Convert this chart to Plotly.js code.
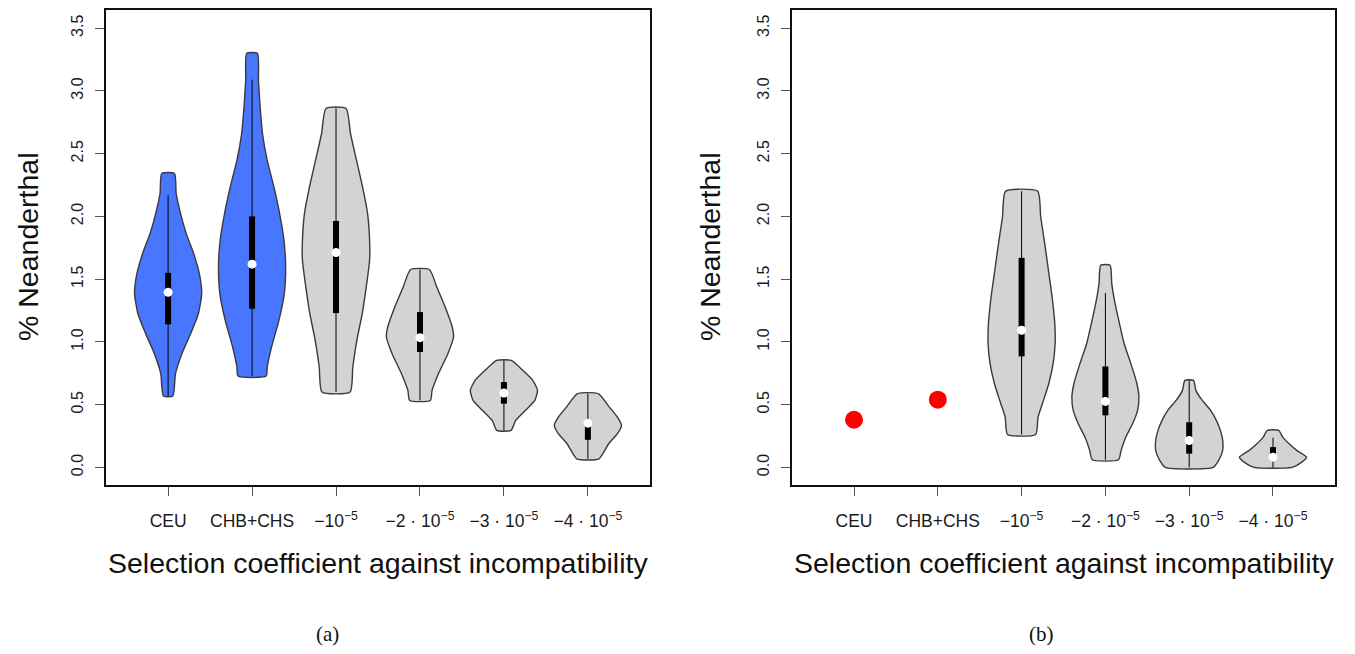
<!DOCTYPE html>
<html>
<head>
<meta charset="utf-8">
<script src="https://cdn.plot.ly/plotly-3.0.1.min.js"></script>
<style>
  html, body { margin: 0; padding: 0; background: #fff; }
  #chart { width: 1355px; height: 654px; }
</style>
</head>
<body>
<div id="chart"></div>
<script>
// ---------- categories / tick labels ----------
const categories = ["CEU", "CHB+CHS", "−10<sup>−5</sup>", "−2 · 10<sup>−5</sup>", "−3 · 10<sup>−5</sup>", "−4 · 10<sup>−5</sup>"];
const tickPositions = [1, 2, 3, 4, 5, 6];
const yTickVals = [0, 0.5, 1, 1.5, 2, 2.5, 3, 3.5];
const yTickText = ["0.0", "0.5", "1.0", "1.5", "2.0", "2.5", "3.0", "3.5"];

// ---------- panel (a): violin outlines (value levels, relative density) ----------
const aCeuY = [2.342, 2.183, 2.023, 1.863, 1.704, 1.544, 1.385, 1.225, 1.066, 0.906, 0.747, 0.569];
const aCeuD = [0.19, 0.24, 0.37, 0.54, 0.76, 0.93, 1.00, 0.90, 0.67, 0.41, 0.22, 0.14];
const aChbY = [3.299, 3.086, 2.873, 2.661, 2.448, 2.235, 2.023, 1.810, 1.597, 1.385, 1.172, 0.959, 0.800, 0.728];
const aChbD = [0.16, 0.19, 0.24, 0.31, 0.45, 0.65, 0.82, 0.95, 1.00, 0.96, 0.80, 0.58, 0.45, 0.42];
const aS1Y = [2.860, 2.661, 2.448, 2.235, 2.023, 1.810, 1.651, 1.438, 1.225, 1.013, 0.800, 0.601];
const aS1D = [0.30, 0.43, 0.61, 0.79, 0.94, 1.00, 1.00, 0.90, 0.78, 0.62, 0.50, 0.42];
const aS2Y = [1.577, 1.438, 1.278, 1.119, 1.039, 0.906, 0.747, 0.614, 0.534];
const aS2D = [0.28, 0.50, 0.75, 0.96, 1.00, 0.83, 0.55, 0.36, 0.31];
const aS3Y = [0.853, 0.774, 0.694, 0.614, 0.534, 0.455, 0.375, 0.295];
const aS3D = [0.22, 0.56, 0.86, 1.00, 0.92, 0.64, 0.35, 0.21];
const aS4Y = [0.588, 0.481, 0.401, 0.335, 0.269, 0.189, 0.069];
const aS4D = [0.31, 0.64, 0.88, 1.00, 0.88, 0.62, 0.33];

// panel (a): box statistics
const aWhiskLo = [0.569, 0.728, 0.601, 0.534, 0.295, 0.069];
const aWhiskHi = [2.17, 3.09, 2.86, 1.577, 0.853, 0.588];
const aQ1 = [1.14, 1.265, 1.23, 0.92, 0.508, 0.22];
const aQ3 = [1.55, 2.00, 1.964, 1.238, 0.68, 0.37];
const aMedian = [1.395, 1.62, 1.712, 1.034, 0.593, 0.353];

// ---------- panel (b) ----------
const bPointVals = [0.38, 0.54];           // CEU, CHB+CHS observed values
const bS1Y = [2.201, 1.996, 1.784, 1.571, 1.358, 1.146, 0.986, 0.827, 0.667, 0.508, 0.401, 0.263];
const bS1D = [0.48, 0.57, 0.69, 0.80, 0.91, 0.99, 1.00, 0.94, 0.81, 0.62, 0.49, 0.42];
const bS2Y = [1.611, 1.465, 1.305, 1.146, 0.986, 0.827, 0.667, 0.561, 0.455, 0.348, 0.242, 0.136, 0.061];
const bS2D = [0.14, 0.19, 0.29, 0.42, 0.56, 0.76, 0.94, 1.00, 0.96, 0.81, 0.61, 0.47, 0.39];
const bS3Y = [0.694, 0.614, 0.534, 0.455, 0.375, 0.295, 0.215, 0.136, 0.056, 0.0];
const bS3D = [0.13, 0.20, 0.39, 0.64, 0.81, 0.93, 1.00, 1.00, 0.88, 0.71];
const bS4Y = [0.295, 0.242, 0.189, 0.136, 0.082, 0.042, 0.0];
const bS4D = [0.17, 0.29, 0.48, 0.71, 1.00, 0.86, 0.57];

const bWhiskLo = [0.263, 0.061, 0.0, 0.0];
const bWhiskHi = [2.201, 1.39, 0.694, 0.237];
const bQ1 = [0.885, 0.415, 0.11, 0.06];
const bQ3 = [1.67, 0.805, 0.36, 0.162];
const bMedian = [1.093, 0.526, 0.215, 0.082];

// ---------- styles ----------
const BLUE = "#4876FF", GREY = "#D3D3D3", OUTLINE = "#3a3a3a";
const HALF_WIDTH = 0.4;
const FONT = "Liberation Sans, Arial, Helvetica, sans-serif";

const traces = [];

function violin(center, ys, ds, fill, xa, ya) {
  const xl = ds.map(d => center - d * HALF_WIDTH);
  const xr = ds.map(d => center + d * HALF_WIDTH).reverse();
  const x = xl.concat(xr, [xl[0]]);
  const y = ys.concat(ys.slice().reverse(), [ys[0]]);
  traces.push({
    type: "scatter", mode: "lines", x: x, y: y, xaxis: xa, yaxis: ya,
    fill: "toself", fillcolor: fill,
    line: { color: OUTLINE, width: 1.4, shape: "spline", smoothing: 0.55 },
    hoverinfo: "skip", showlegend: false
  });
}

function boxStats(center, lo, hi, q1, q3, med, xa, ya) {
  traces.push({
    type: "scatter", mode: "lines", x: [center, center], y: [lo, hi], xaxis: xa, yaxis: ya,
    line: { color: "#000", width: 1 }, hoverinfo: "skip", showlegend: false
  });
  traces.push({
    type: "scatter", mode: "lines", x: [center, center], y: [q1, q3], xaxis: xa, yaxis: ya,
    line: { color: "#000", width: 6 }, hoverinfo: "skip", showlegend: false
  });
  traces.push({
    type: "scatter", mode: "markers", x: [center], y: [med], xaxis: xa, yaxis: ya,
    marker: { color: "#fff", size: 9 }, hoverinfo: "skip", showlegend: false
  });
}

// panel (a)
const aShapes = [[aCeuY, aCeuD, BLUE], [aChbY, aChbD, BLUE], [aS1Y, aS1D, GREY],
                 [aS2Y, aS2D, GREY], [aS3Y, aS3D, GREY], [aS4Y, aS4D, GREY]];
aShapes.forEach((s, i) => {
  violin(tickPositions[i], s[0], s[1], s[2], "x", "y");
  boxStats(tickPositions[i], aWhiskLo[i], aWhiskHi[i], aQ1[i], aQ3[i], aMedian[i], "x", "y");
});

// panel (b)
traces.push({
  type: "scatter", mode: "markers", x: tickPositions.slice(0, 2), y: bPointVals,
  xaxis: "x2", yaxis: "y2", marker: { color: "#FF0000", size: 18 },
  hoverinfo: "skip", showlegend: false
});
const bShapes = [[bS1Y, bS1D], [bS2Y, bS2D], [bS3Y, bS3D], [bS4Y, bS4D]];
bShapes.forEach((s, i) => {
  const c = tickPositions[i + 2];
  violin(c, s[0], s[1], GREY, "x2", "y2");
  boxStats(c, bWhiskLo[i], bWhiskHi[i], bQ1[i], bQ3[i], bMedian[i], "x2", "y2");
});

const xAxisBase = {
  range: [0.26, 6.74], tickvals: tickPositions, ticktext: categories,
  ticks: "outside", ticklen: 9, tickwidth: 1, tickcolor: "#555",
  showline: true, mirror: true, linecolor: "#111", linewidth: 2,
  showgrid: false, zeroline: false, fixedrange: true,
  tickfont: { family: FONT, size: 17.5, color: "#1a1a1a" }, ticklabelstandoff: 10
};
const yAxisBase = {
  range: [-0.14, 3.645], tickvals: yTickVals, ticktext: yTickText, tickangle: -90,
  ticks: "outside", ticklen: 9, tickwidth: 1, tickcolor: "#555",
  showline: true, mirror: true, linecolor: "#111", linewidth: 2,
  showgrid: false, zeroline: false, fixedrange: true,
  tickfont: { family: FONT, size: 16, color: "#1a1a1a" }, ticklabelstandoff: 6,
  domain: [169 / 654, 644 / 654]
};

const titleFont = { family: FONT, size: 28.5, color: "#111" };
const capFont = { family: "Liberation Serif, DejaVu Serif, serif", size: 21, color: "#111" };

const layout = {
  width: 1355, height: 654,
  margin: { l: 0, r: 0, t: 0, b: 0 },
  paper_bgcolor: "#fff", plot_bgcolor: "#fff",
  showlegend: false,
  xaxis: Object.assign({}, xAxisBase, { domain: [106 / 1355, 650 / 1355], anchor: "y" }),
  yaxis: Object.assign({}, yAxisBase, { anchor: "x" }),
  xaxis2: Object.assign({}, xAxisBase, { domain: [792 / 1355, 1335 / 1355], anchor: "y2" }),
  yaxis2: Object.assign({}, yAxisBase, { anchor: "x2" }),
  annotations: [
    { text: "Selection coefficient against incompatibility", xref: "paper", yref: "paper",
      x: 378 / 1355, y: 1 - 563 / 654, xanchor: "center", yanchor: "middle", showarrow: false, font: titleFont },
    { text: "Selection coefficient against incompatibility", xref: "paper", yref: "paper",
      x: 1063.5 / 1355, y: 1 - 563 / 654, xanchor: "center", yanchor: "middle", showarrow: false, font: titleFont },
    { text: "% Neanderthal", textangle: -90, xref: "paper", yref: "paper",
      x: 28 / 1355, y: 1 - 247 / 654, xanchor: "center", yanchor: "middle", showarrow: false, font: titleFont },
    { text: "% Neanderthal", textangle: -90, xref: "paper", yref: "paper",
      x: 710 / 1355, y: 1 - 247 / 654, xanchor: "center", yanchor: "middle", showarrow: false, font: titleFont },
    { text: "(a)", xref: "paper", yref: "paper", x: 327 / 1355, y: 1 - 634 / 654,
      xanchor: "center", yanchor: "middle", showarrow: false, font: capFont },
    { text: "(b)", xref: "paper", yref: "paper", x: 1041 / 1355, y: 1 - 634 / 654,
      xanchor: "center", yanchor: "middle", showarrow: false, font: capFont }
  ]
};

Plotly.newPlot("chart", traces, layout, { displayModeBar: false, staticPlot: true });
</script>
</body>
</html>
